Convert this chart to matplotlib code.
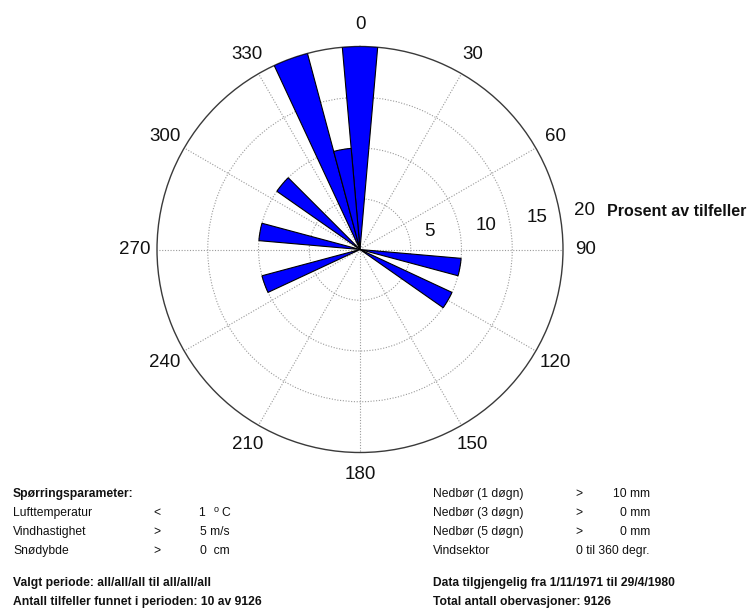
import numpy as np
import matplotlib
matplotlib.use("Agg")
import matplotlib.pyplot as plt

plt.rcParams['font.family'] = ['Liberation Sans', 'DejaVu Sans']

# Wind direction sectors (degrees, 10-degree bins) and percentage of cases
directions = [0, 100, 120, 250, 280, 310, 340, 350]
percent = [20, 10, 10, 10, 10, 10, 20, 10]
sector_width = 10

angle_ticks = list(range(0, 360, 30))
ring_values = [5, 10, 15, 20]
r_max = 20

W, H = 753, 608
fig = plt.figure(figsize=(W / 100, H / 100), dpi=100)
cx, cy, R = 360, 249.5, 203
ax = fig.add_axes([(cx - R) / W, 1 - (cy + R) / H, 2 * R / W, 2 * R / H],
                  projection='polar')
ax.set_theta_zero_location('N')
ax.set_theta_direction(-1)

ax.bar(np.radians(directions), percent, width=np.radians(sector_width),
       color='#0000FF', edgecolor='black', linewidth=0.8, zorder=3)

ax.set_ylim(0, r_max)
ax.set_yticks(ring_values[:-1])
ax.set_yticklabels([])
ax.set_xticks(np.radians(angle_ticks))
ax.set_xticklabels([])
ax.grid(True, linestyle=(0, (1, 1.5)), color='#9a9a9a', linewidth=0.8)
ax.spines['polar'].set_color('#3a3a3a')
ax.spines['polar'].set_linewidth(1.0)

# Angle labels around the rim
for a in angle_ticks:
    ax.text(np.radians(a), 22.2, str(a), ha='center', va='center',
            fontsize=13.5, color='#111111', clip_on=False)

# Radial ring labels, set just above the 90-degree spoke
ring_label_pos = {5: (75.5, 7.02), 10: (79.0, 12.62),
                  15: (79.8, 17.69), 20: (80.2, 22.49)}
for v in ring_values:
    ang, rr = ring_label_pos[v]
    ax.text(np.radians(ang), rr, str(v), ha='center', va='center',
            fontsize=13.5, color='#111111', clip_on=False)
fig.text(607 / W, 1 - 211 / H, 'Prosent av tilfeller', ha='left', va='center',
         fontsize=11.5, fontweight='bold', color='#111111')


def put(x, y, s, bold=False, ha='left', size=8.7):
    fig.text(x / W, 1 - y / H, s, ha=ha, va='center', fontsize=size,
             fontweight='bold' if bold else 'normal', color='#111111')


put(13, 494, 'Spørringsparameter:', bold=True)
put(13, 513, 'Lufttemperatur')
put(157, 513, '<', ha='center')
put(205, 513, '1', ha='right')
put(218.5, 509, 'o', ha='right', size=6.5)
put(230, 513, 'C', ha='right')
put(13, 532, 'Vindhastighet')
put(157, 532, '>', ha='center')
put(230, 532, '5 m/s', ha='right')
put(13, 551, 'Snødybde')
put(157, 551, '>', ha='center')
put(230, 551, '0  cm', ha='right')
put(13, 583, 'Valgt periode: all/all/all til all/all/all', bold=True)
put(13, 602, 'Antall tilfeller funnet i perioden: 10 av 9126', bold=True)

put(433, 494, 'Nedbør (1 døgn)')
put(579, 494, '>', ha='center')
put(650, 494, '10 mm', ha='right')
put(433, 513, 'Nedbør (3 døgn)')
put(579, 513, '>', ha='center')
put(650, 513, '0 mm', ha='right')
put(433, 532, 'Nedbør (5 døgn)')
put(579, 532, '>', ha='center')
put(650, 532, '0 mm', ha='right')
put(433, 551, 'Vindsektor')
put(650, 551, '0 til 360 degr.', ha='right')
put(433, 583, 'Data tilgjengelig fra 1/11/1971 til 29/4/1980', bold=True)
put(433, 602, 'Total antall obervasjoner: 9126', bold=True)

fig.savefig('out.png', dpi=100)
